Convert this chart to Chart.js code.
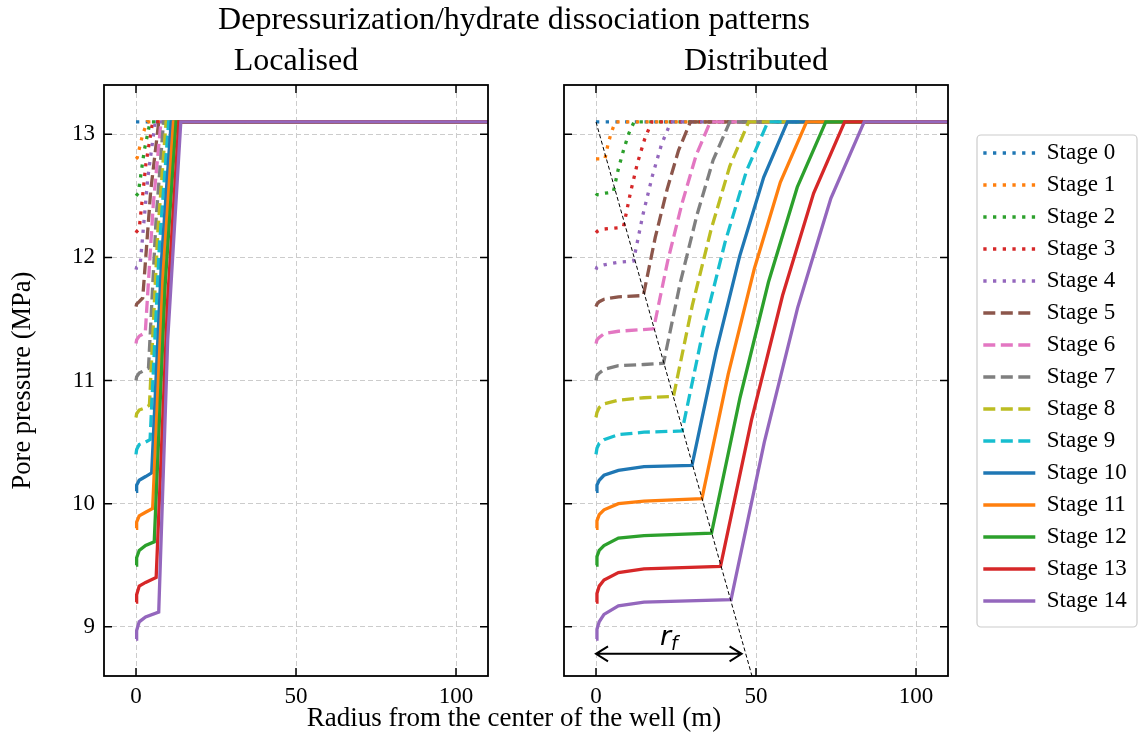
<!DOCTYPE html>
<html>
<head>
<meta charset="utf-8">
<script src="https://cdn.jsdelivr.net/npm/chart.js@4.4.0/dist/chart.umd.min.js"></script>
<style>
  html, body { margin: 0; padding: 0; background: #fff; }
  #wrap { position: relative; width: 1139px; height: 734px; }
  #wrap canvas { position: absolute; left: 0; top: 0; }
</style>
</head>
<body>
<div id="wrap">
  <canvas id="localised" width="1139" height="734"></canvas>
  <canvas id="distributed" width="1139" height="734"></canvas>
</div>
<script>
const stageLabels = [
  "Stage 0", "Stage 1", "Stage 2", "Stage 3", "Stage 4",
  "Stage 5", "Stage 6", "Stage 7", "Stage 8", "Stage 9",
  "Stage 10", "Stage 11", "Stage 12", "Stage 13", "Stage 14",
];
const stageColors = [
  "#1f77b4", "#ff7f0e", "#2ca02c", "#d62728", "#9467bd",
  "#8c564b", "#e377c2", "#7f7f7f", "#bcbd22", "#17becf",
  "#1f77b4", "#ff7f0e", "#2ca02c", "#d62728", "#9467bd",
];
const stageStyles = [
  "dotted", "dotted", "dotted", "dotted", "dotted",
  "dashed", "dashed", "dashed", "dashed", "dashed",
  "solid", "solid", "solid", "solid", "solid",
];

const xTicks = [0, 50, 100];
const yTicks = [9, 10, 11, 12, 13];

// Localised: radius (m) / pore pressure (MPa), one row per stage
const localisedRadius = [
  [0, 110],
  [0, 0.4, 2.0, 3.5, 110],
  [0, 0.7, 2.6, 4.4, 110],
  [0, 0.2, 1.0, 3.1, 5.2, 110],
  [0, 0.2, 1.3, 3.7, 6.0, 110],
  [0, 0.2, 1.0, 2.1, 4.6, 7.1, 110],
  [0, 0.2, 1.0, 2.9, 5.4, 7.8, 110],
  [0, 0.2, 1.0, 3.9, 6.3, 8.6, 110],
  [0, 0.2, 1.0, 3.0, 4.2, 6.8, 9.4, 110],
  [0, 0.2, 1.0, 3.0, 4.4, 7.3, 10.2, 110],
  [0, 0.2, 1.0, 3.0, 4.9, 8.0, 11.0, 110],
  [0, 0.2, 1.0, 3.0, 5.2, 8.5, 11.7, 110],
  [0, 0.2, 1.0, 3.0, 5.7, 9.1, 12.5, 110],
  [0, 0.2, 1.0, 3.0, 6.3, 9.9, 13.4, 110],
  [0, 0.2, 1.0, 3.0, 7.1, 9.9, 14.0, 110],
];
const localisedPressure = [
  [13.1, 13.1],
  [12.8, 12.81, 12.99, 13.1, 13.1],
  [12.5, 12.52, 12.87, 13.1, 13.1],
  [12.2, 12.21, 12.23, 12.76, 13.1, 13.1],
  [11.9, 11.92, 11.94, 12.65, 13.1, 13.1],
  [11.6, 11.62, 11.64, 11.67, 12.54, 13.1, 13.1],
  [11.3, 11.33, 11.36, 11.39, 12.43, 13.1, 13.1],
  [11.0, 11.03, 11.06, 11.10, 12.32, 13.1, 13.1],
  [10.7, 10.73, 10.76, 10.78, 10.80, 12.20, 13.1, 13.1],
  [10.4, 10.44, 10.48, 10.50, 10.52, 12.09, 13.1, 13.1],
  [10.1, 10.15, 10.19, 10.22, 10.25, 11.99, 13.1, 13.1],
  [9.8, 9.85, 9.90, 9.93, 9.96, 11.88, 13.1, 13.1],
  [9.5, 9.56, 9.62, 9.66, 9.69, 11.77, 13.1, 13.1],
  [9.2, 9.26, 9.33, 9.36, 9.40, 11.66, 13.1, 13.1],
  [8.9, 8.97, 9.04, 9.08, 9.12, 11.33, 13.1, 13.1],
];

// Distributed: radius (m) / pore pressure (MPa), one row per stage
const distributedRadius = [
  [0, 110],
  [0, 2.8, 3.6, 4.6, 6.0, 110],
  [0, 0.3, 1, 2.5, 5.4, 7.0, 8.7, 10.3, 11.9, 110],
  [0, 0.3, 1, 2.5, 7, 8.6, 10.8, 13.0, 15.2, 17.4, 110],
  [0, 0.3, 1, 2.5, 7, 11.7, 14.6, 17.6, 20.5, 23.4, 110],
  [0, 0.3, 1, 2.5, 7, 14.8, 18.5, 22.2, 25.8, 29.5, 110],
  [0, 0.3, 1, 2.5, 7, 18.0, 22.4, 26.9, 31.3, 35.7, 110],
  [0, 0.3, 1, 2.5, 7, 15, 21.1, 26.3, 31.5, 36.6, 41.8, 110],
  [0, 0.3, 1, 2.5, 7, 15, 24.2, 30.1, 36.0, 41.8, 47.7, 110],
  [0, 0.3, 1, 2.5, 7, 15, 26.9, 33.6, 40.3, 47.0, 53.7, 110],
  [0, 0.3, 1, 2.5, 7, 15, 30.0, 37.5, 44.9, 52.4, 59.8, 110],
  [0, 0.3, 1, 2.5, 7, 15, 33.1, 41.3, 49.5, 57.6, 65.8, 110],
  [0, 0.3, 1, 2.5, 7, 15, 36.1, 45.0, 53.9, 62.9, 71.8, 110],
  [0, 0.3, 1, 2.5, 7, 15, 38.9, 48.6, 58.3, 68.0, 77.7, 110],
  [0, 0.3, 1, 2.5, 7, 15, 42.2, 52.6, 63.0, 73.4, 83.8, 110],
];
const distributedPressure = [
  [13.1, 13.1],
  [12.8, 12.8, 12.9, 13.0, 13.1, 13.1],
  [12.5, 12.51, 12.51, 12.52, 12.53, 12.72, 12.88, 13.01, 13.1, 13.1],
  [12.2, 12.21, 12.22, 12.23, 12.24, 12.25, 12.53, 12.77, 12.96, 13.1, 13.1],
  [11.9, 11.92, 11.93, 11.94, 11.96, 11.97, 12.34, 12.66, 12.92, 13.1, 13.1],
  [11.6, 11.62, 11.64, 11.66, 11.68, 11.69, 12.16, 12.55, 12.87, 13.1, 13.1],
  [11.3, 11.33, 11.35, 11.38, 11.40, 11.42, 11.97, 12.44, 12.83, 13.1, 13.1],
  [11.0, 11.04, 11.06, 11.09, 11.12, 11.13, 11.14, 11.79, 12.34, 12.79, 13.1, 13.1],
  [10.7, 10.74, 10.78, 10.81, 10.84, 10.86, 10.87, 11.61, 12.23, 12.74, 13.1, 13.1],
  [10.4, 10.45, 10.49, 10.52, 10.56, 10.58, 10.59, 11.42, 12.12, 12.70, 13.1, 13.1],
  [10.1, 10.15, 10.19, 10.23, 10.27, 10.30, 10.31, 11.23, 12.01, 12.65, 13.1, 13.1],
  [9.8, 9.86, 9.91, 9.95, 10.0, 10.02, 10.04, 11.05, 11.91, 12.61, 13.1, 13.1],
  [9.5, 9.57, 9.62, 9.66, 9.72, 9.74, 9.76, 10.86, 11.80, 12.57, 13.1, 13.1],
  [9.2, 9.27, 9.33, 9.38, 9.44, 9.47, 9.49, 10.68, 11.69, 12.52, 13.1, 13.1],
  [8.9, 8.98, 9.04, 9.10, 9.17, 9.20, 9.22, 10.50, 11.59, 12.48, 13.1, 13.1],
];

// dissociation front (thin black dashed line) and the r_f arrow
const frontRadius = [0, 52.0];
const frontPressure = [13.1, 8.3];
const arrowRadius = [0, 45.5];
const arrowPressure = 8.78;

const serif = "'Liberation Serif', 'Times New Roman', serif";
const gridColor = "#cccccc";

const dashFor = (style) => {
  if (style === "dotted") return [3.3, 6.4];
  if (style === "dashed") return [12, 5.5];
  return [];
};

const stageDatasets = (radius, pressure) =>
  stageLabels.map((label, k) => ({
    label: label,
    data: radius[k].map((r, i) => ({ x: r, y: pressure[k][i] })),
    borderColor: stageColors[k],
    backgroundColor: stageColors[k],
    borderWidth: 3.3,
    borderDash: dashFor(stageStyles[k]),
    pointRadius: 0,
    order: stageLabels.length - k,
  }));

// inward ticks on all four sides and the black box round the axes
const panelFrame = {
  id: "panelFrame",
  afterDatasetsDraw(chart) {
    const { ctx, chartArea: a, scales } = chart;
    const x = scales.x;
    const y = scales.y;
    ctx.save();
    ctx.strokeStyle = "#000";
    ctx.lineWidth = 1.5;
    ctx.beginPath();
    x.ticks.forEach((t) => {
      const px = x.getPixelForValue(t.value);
      ctx.moveTo(px, a.bottom);
      ctx.lineTo(px, a.bottom - 8);
      ctx.moveTo(px, a.top);
      ctx.lineTo(px, a.top + 8);
    });
    y.ticks.forEach((t) => {
      const py = y.getPixelForValue(t.value);
      ctx.moveTo(a.left, py);
      ctx.lineTo(a.left + 8, py);
      ctx.moveTo(a.right, py);
      ctx.lineTo(a.right - 8, py);
    });
    ctx.stroke();
    ctx.lineWidth = 1.8;
    ctx.strokeRect(a.left, a.top, a.right - a.left, a.bottom - a.top);
    ctx.restore();
  },
};

// figure title and the shared x label
const figureText = {
  id: "figureText",
  afterDraw(chart) {
    const ctx = chart.ctx;
    ctx.save();
    ctx.fillStyle = "#000";
    ctx.textAlign = "center";
    ctx.textBaseline = "middle";
    ctx.font = "32px " + serif;
    ctx.fillText("Depressurization/hydrate dissociation patterns", 514, 21);
    ctx.font = "27px " + serif;
    ctx.fillText("Radius from the center of the well (m)", 514, 719);
    ctx.restore();
  },
};

// move the legend out beside the right panel and give it a frame
const legendFrame = {
  id: "legendFrame",
  beforeDraw(chart) {
    const lg = chart.legend;
    const a = chart.chartArea;
    lg.left = a.right + 26.3;
    lg.top = a.top + 47.5;
    lg.right = lg.left + 170;
    lg.bottom = a.bottom + 40;
    lg.height = lg.bottom - lg.top;
    const ctx = chart.ctx;
    ctx.save();
    ctx.beginPath();
    ctx.roundRect(a.right + 29, a.top + 50, 160, 492, 4);
    ctx.fillStyle = "rgba(255,255,255,0.8)";
    ctx.fill();
    ctx.strokeStyle = "#cccccc";
    ctx.lineWidth = 1.2;
    ctx.stroke();
    ctx.restore();
  },
};

// double arrow for r_f
const radiusArrow = {
  id: "radiusArrow",
  afterDatasetsDraw(chart) {
    const { ctx, scales } = chart;
    const x0 = scales.x.getPixelForValue(arrowRadius[0]);
    const x1 = scales.x.getPixelForValue(arrowRadius[1]);
    const py = scales.y.getPixelForValue(arrowPressure);
    ctx.save();
    ctx.strokeStyle = "#000";
    ctx.lineWidth = 2;
    ctx.beginPath();
    ctx.moveTo(x0, py);
    ctx.lineTo(x1, py);
    ctx.moveTo(x0 + 12, py - 7.5);
    ctx.lineTo(x0, py);
    ctx.lineTo(x0 + 12, py + 7.5);
    ctx.moveTo(x1 - 12, py - 7.5);
    ctx.lineTo(x1, py);
    ctx.lineTo(x1 - 12, py + 7.5);
    ctx.stroke();

    const cx = (x0 + x1) / 2;
    ctx.fillStyle = "#000";
    ctx.textBaseline = "alphabetic";
    ctx.font = "italic 27px 'DejaVu Sans'";
    const rw = ctx.measureText("r").width;
    ctx.font = "italic 19px 'DejaVu Sans'";
    const fw = ctx.measureText("f").width;
    const left = cx - (rw + fw) / 2;
    ctx.font = "italic 27px 'DejaVu Sans'";
    ctx.fillText("r", left, py - 9);
    ctx.font = "italic 19px 'DejaVu Sans'";
    ctx.fillText("f", left + rw, py - 4);
    ctx.restore();
  },
};

// legend samples keep the dataset's dash pattern and width
const stageLegendLabels = (chart) =>
  Chart.defaults.plugins.legend.labels.generateLabels(chart).map((item) => {
    const ds = chart.data.datasets[item.datasetIndex];
    item.lineDash = ds.borderDash;
    item.lineWidth = ds.borderWidth;
    item.strokeStyle = ds.borderColor;
    return item;
  });

const panelOptions = (title, showY, padLeft, padRight, showLegend) => ({
  responsive: false,
  animation: false,
  layout: { padding: { left: padLeft, right: padRight, top: 0, bottom: 0 } },
  scales: {
    x: {
      type: "linear",
      min: -10,
      max: 110,
      afterBuildTicks: (s) => {
        s.ticks = xTicks.map((v) => ({ value: v }));
      },
      afterFit: (s) => {
        s.height = 58;
      },
      grid: { color: gridColor, lineWidth: 1, drawTicks: false, borderDash: [5, 3] },
      border: { display: false, dash: [5, 3] },
      ticks: { padding: 7, color: "#000", maxRotation: 0, font: { family: serif, size: 23 } },
    },
    y: {
      type: "linear",
      min: 8.6,
      max: 13.4,
      afterBuildTicks: (s) => {
        s.ticks = yTicks.map((v) => ({ value: v }));
      },
      afterFit: (s) => {
        s.width = showY ? 104 : 0;
      },
      grid: { color: gridColor, lineWidth: 1, drawTicks: false, borderDash: [5, 3] },
      border: { display: false, dash: [5, 3] },
      ticks: { display: showY, padding: 9, color: "#000", font: { family: serif, size: 23 } },
      title: {
        display: showY,
        text: "Pore pressure (MPa)",
        color: "#000",
        font: { family: serif, size: 26.5 },
        padding: { top: 7.1, bottom: 0 },
      },
    },
  },
  plugins: {
    title: {
      display: true,
      text: title,
      fullSize: false,
      color: "#000",
      font: { family: serif, size: 32, weight: "normal" },
      padding: { top: 42.8, bottom: 3.8 },
    },
    legend: {
      display: showLegend,
      position: "chartArea",
      align: "start",
      labels: {
        usePointStyle: true,
        pointStyle: "line",
        pointStyleWidth: 52,
        padding: 9,
        color: "#000",
        font: { family: serif, size: 23 },
        generateLabels: stageLegendLabels,
        filter: (item) => item.datasetIndex < stageLabels.length,
        sort: (a, b) => a.datasetIndex - b.datasetIndex,
      },
    },
    tooltip: { enabled: false },
  },
});

new Chart(document.getElementById("localised"), {
  type: "line",
  data: { datasets: stageDatasets(localisedRadius, localisedPressure) },
  options: panelOptions("Localised", true, 0, 651, false),
  plugins: [panelFrame],
});

const distributedSets = stageDatasets(distributedRadius, distributedPressure);
distributedSets.push({
  label: "front",
  data: frontRadius.map((r, i) => ({ x: r, y: frontPressure[i] })),
  borderColor: "#000",
  borderWidth: 1,
  borderDash: [4, 2.5],
  pointRadius: 0,
  order: -1,
});

new Chart(document.getElementById("distributed"), {
  type: "line",
  data: { datasets: distributedSets },
  options: panelOptions("Distributed", false, 564, 191, true),
  plugins: [legendFrame, panelFrame, radiusArrow, figureText],
});
</script>
</body>
</html>
